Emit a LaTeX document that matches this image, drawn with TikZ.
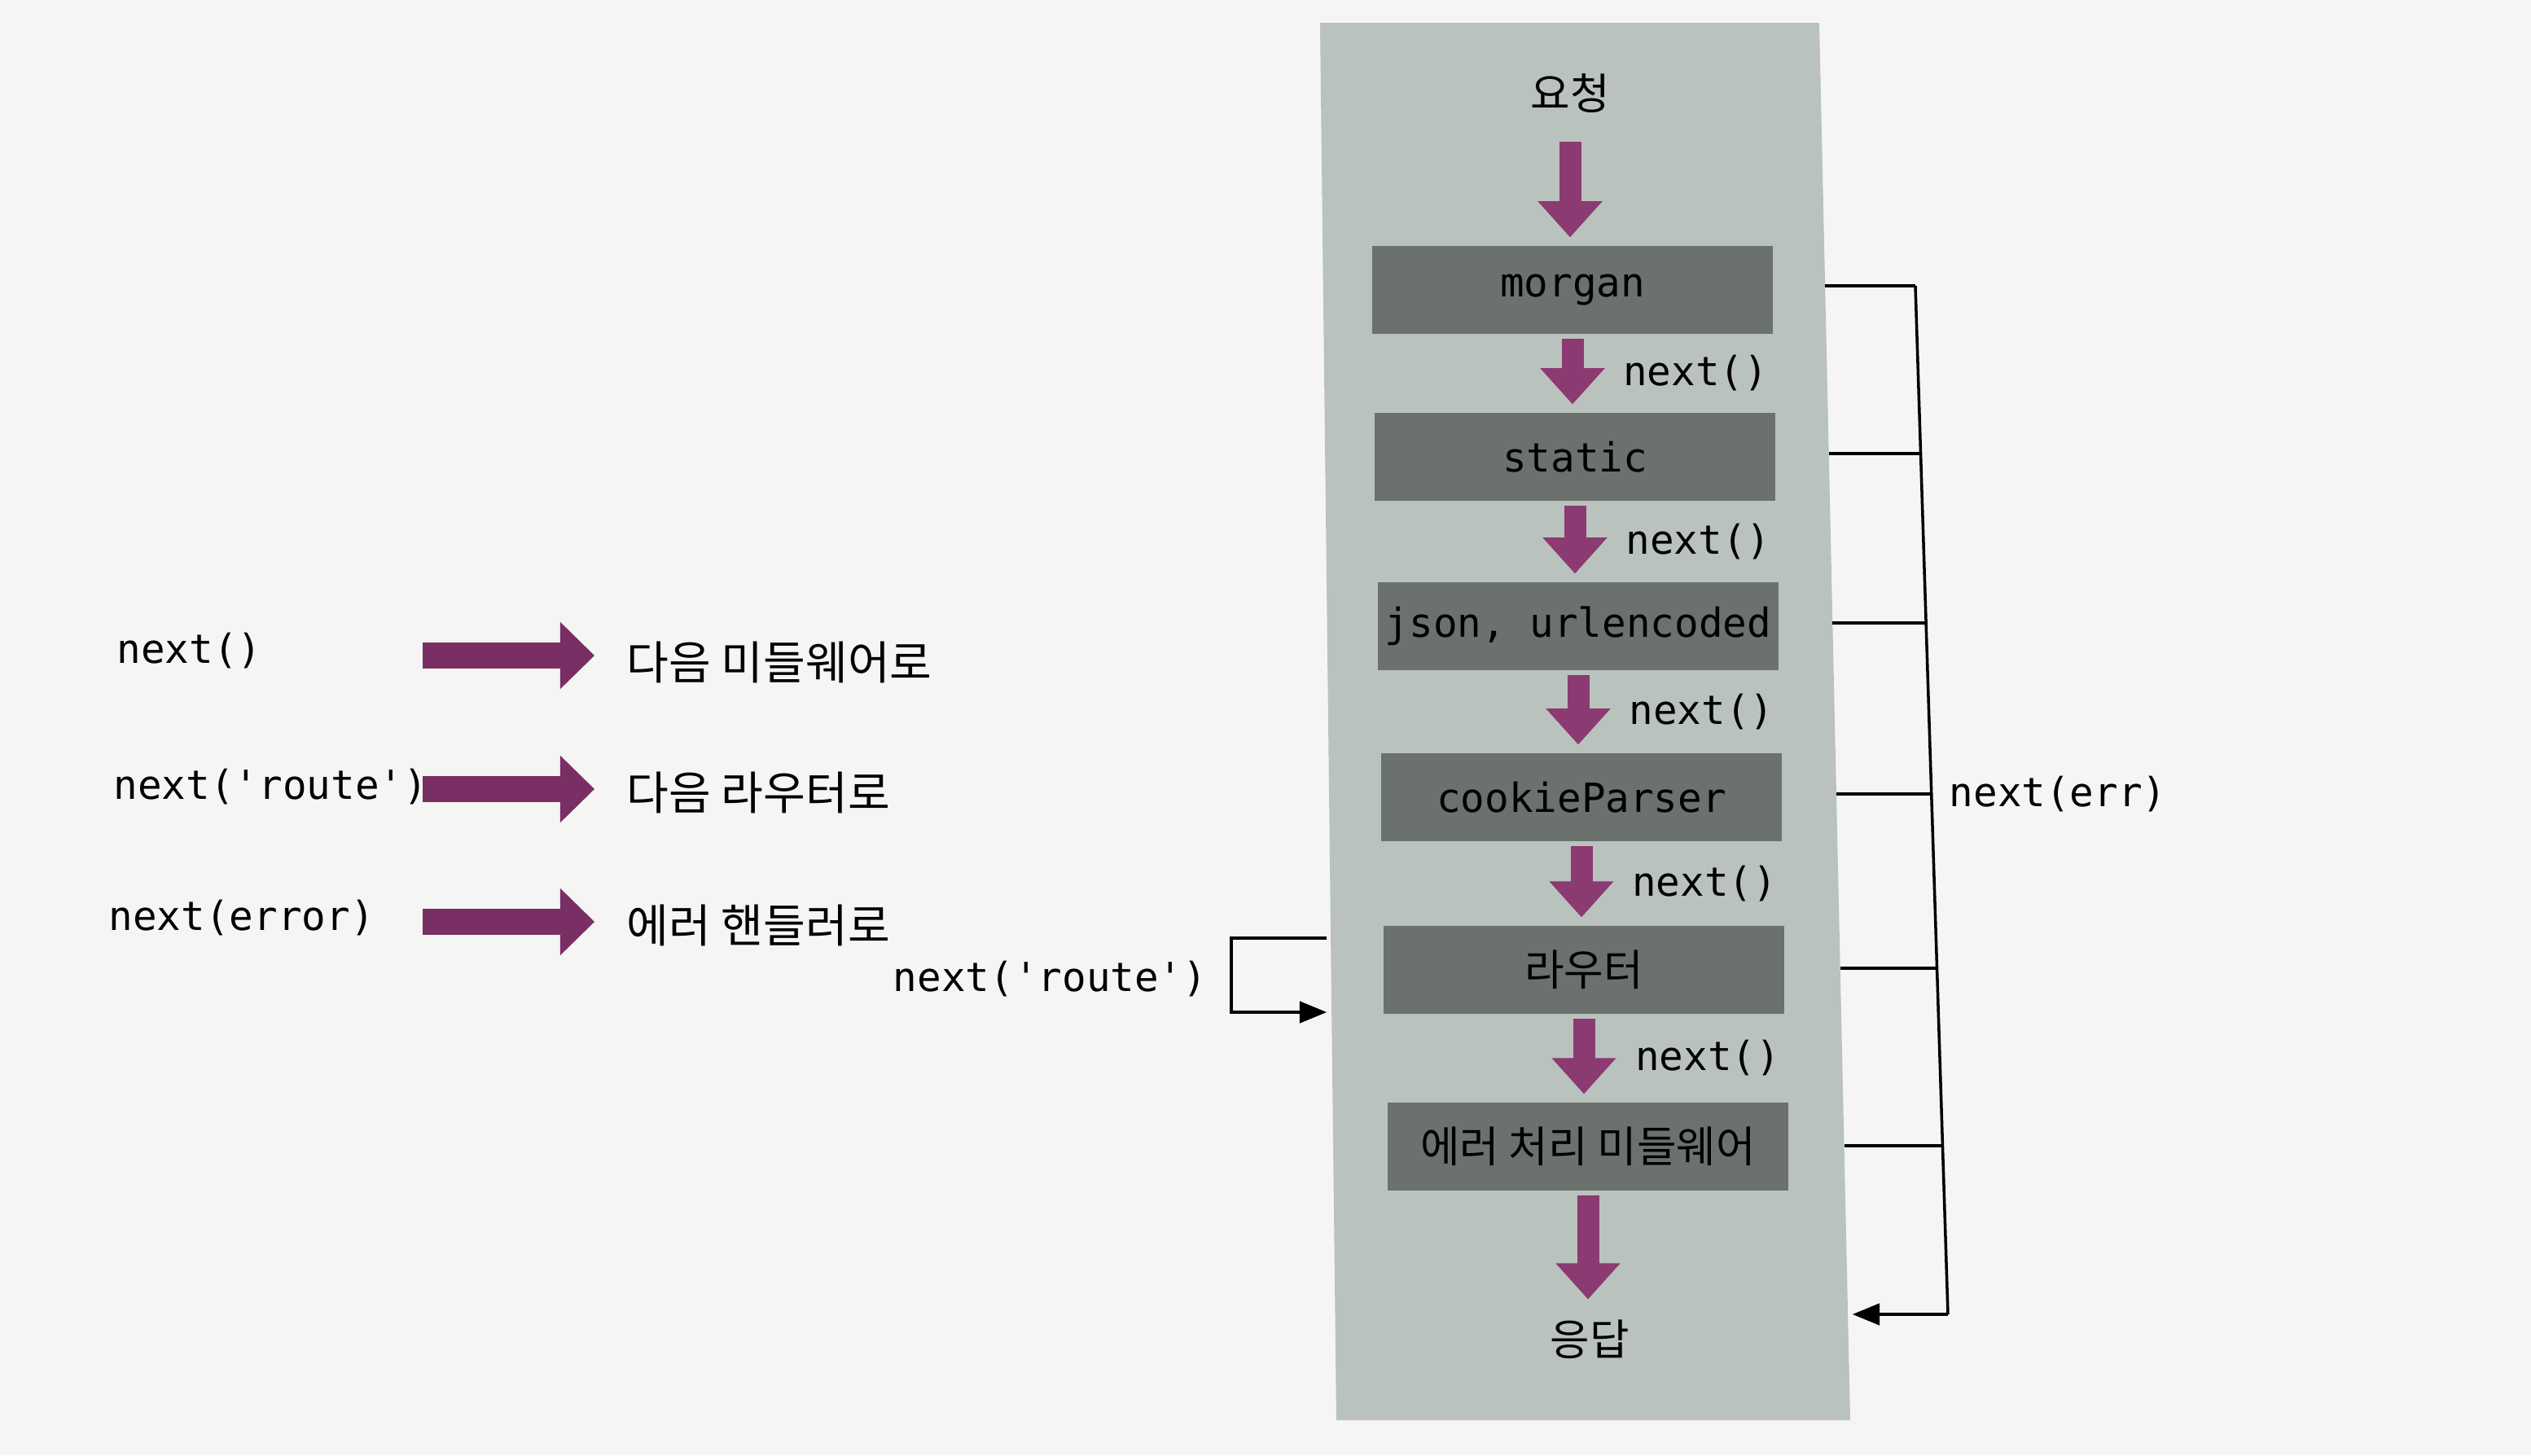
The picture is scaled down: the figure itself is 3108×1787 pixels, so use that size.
\documentclass[tikz,border=0pt]{standalone}
\usepackage{fontspec}
\setmonofont{DejaVu Sans Mono}
\newfontfamily\krfont{Noto Sans CJK KR}
\usetikzlibrary{arrows.meta,calc}
\definecolor{pagebg}{HTML}{F5F5F3}
\definecolor{colbg}{HTML}{BAC2BE}
\definecolor{boxbg}{HTML}{6B716D}
\definecolor{arrowc}{HTML}{8C3A72}
\definecolor{legc}{HTML}{7A2F64}
\tikzset{
  mono/.style={inner sep=0pt, font=\ttfamily\fontsize{14}{17}\selectfont, text=black},
  krcol/.style={inner sep=0pt, font=\krfont\fontsize{15}{18}\selectfont, text=black},
  krleg/.style={inner sep=0pt, font=\krfont\fontsize{16}{19}\selectfont, text=black},
  mwbox/.style={fill=boxbg, minimum width=4.92cm, minimum height=1.08cm, inner sep=0pt, text=black},
  downarr/.style={draw=arrowc, line width=0.27cm, shorten <=0.05cm, shorten >=0.1cm,
    -{Triangle[width=0.79cm,length=0.44cm,line width=0.3pt]}},
  legarr/.style={draw=legc, line width=0.32cm,
    -{Triangle[width=0.82cm,length=0.42cm,line width=0.3pt]}},
  bline/.style={draw=black, line width=1pt},
  barr/.style={draw=black, line width=1pt, -{Triangle[width=0.27cm,length=0.33cm,line width=0.3pt]}},
}
\begin{document}
\begin{tikzpicture}[x=0.01cm,y=-0.01cm]
\useasboundingbox (0,0) rectangle (3108,1787);
\fill[pagebg] (0,0) rectangle (3108,1787);
% central column
\fill[colbg] (1621,28) -- (2234,28) -- (2272,1744) -- (1641,1744) -- cycle;

% texts in column
\node[krcol] (req) at (1928,115) {요청};
\node[mwbox, mono] (morgan) at (1931,356) {morgan};
\node[mwbox, mono] (static) at (1934,561) {static};
\node[mwbox, mono] (json) at (1938,769) {json, urlencoded};
\node[mwbox, mono] (cookie) at (1942,979) {cookieParser};
\node[mwbox, krcol] (router) at (1945,1191) {라우터};
\node[mwbox, krcol] (errmw) at (1950,1408) {에러 처리 미들웨어};
\node[krcol] (res) at (1952,1645) {응답};

% vertical arrows
\draw[downarr, shorten <=0pt] ($(req.center)+(0,59)$) -- ($(req.center |- morgan.north)$);
\draw[downarr] (morgan.south) -- (morgan.south |- static.north);
\draw[downarr] (static.south) -- (static.south |- json.north);
\draw[downarr] (json.south) -- (json.south |- cookie.north);
\draw[downarr] (cookie.south) -- (cookie.south |- router.north);
\draw[downarr] (router.south) -- (router.south |- errmw.north);
\draw[downarr, shorten >=0.25cm] (errmw.south) -- (errmw.south |- res.north);

% next() labels
\node[mono, anchor=west] (n1) at ($(morgan.south)!0.5!(static.north)+(60,0)$) {next()};
\node[mono, anchor=west] (n2) at ($(static.south)!0.5!(json.north)+(60,0)$) {next()};
\node[mono, anchor=west] (n3) at ($(json.south)!0.5!(cookie.north)+(60,0)$) {next()};
\node[mono, anchor=west] (n4) at ($(cookie.south)!0.5!(router.north)+(60,0)$) {next()};
\node[mono, anchor=west] (n5) at ($(router.south)!0.5!(errmw.north)+(60,0)$) {next()};

% right bracket: next(err)
\coordinate (e1) at (2241,351);  \coordinate (v1) at (2352,351);
\coordinate (e2) at (2246,557);  \coordinate (v2) at (2359,557);
\coordinate (e3) at (2250,765);  \coordinate (v3) at (2365,765);
\coordinate (e4) at (2255,975);  \coordinate (v4) at (2372,975);
\coordinate (e5) at (2260,1189); \coordinate (v5) at (2378,1189);
\coordinate (e6) at (2265,1407); \coordinate (v6) at (2385,1407);
\coordinate (vb) at (2392,1614); \coordinate (eb) at (2275,1614);
\draw[bline] (e1) -- (v1);
\draw[bline] (e2) -- (v2);
\draw[bline] (e3) -- (v3);
\draw[bline] (e4) -- (v4);
\draw[bline] (e5) -- (v5);
\draw[bline] (e6) -- (v6);
\draw[bline] (v1) -- (vb);
\draw[barr] (vb) -- (eb);
\node[mono, anchor=west] (nerr) at (2393,975) {next(err)};

% left bracket: next('route')
\coordinate (lt) at (1629,1152);
\coordinate (lb) at (1629,1243);
\draw[barr] (lt) -- (1512,1152) -- (1512,1243) -- (lb);
\node[mono, anchor=east] (nroute) at (1483,1202) {next('route')};

% legend
\node[mono, anchor=west] (l1) at (143,799) {next()};
\node[mono, anchor=west] (l2) at (139,966) {next('route')};
\node[mono, anchor=west] (l3) at (133,1127) {next(error)};
\node[krleg, anchor=west] (k1) at (769,813) {다음 미들웨어로};
\node[krleg, anchor=west] (k2) at (769,973) {다음 라우터로};
\node[krleg, anchor=west] (k3) at (769,1136) {에러 핸들러로};
\coordinate (a1) at (519,805);
\coordinate (a2) at (519,969);
\coordinate (a3) at (519,1132);
\draw[legarr] (a1) -- (730,805);
\draw[legarr] (a2) -- (730,969);
\draw[legarr] (a3) -- (730,1132);
\end{tikzpicture}
\end{document}
